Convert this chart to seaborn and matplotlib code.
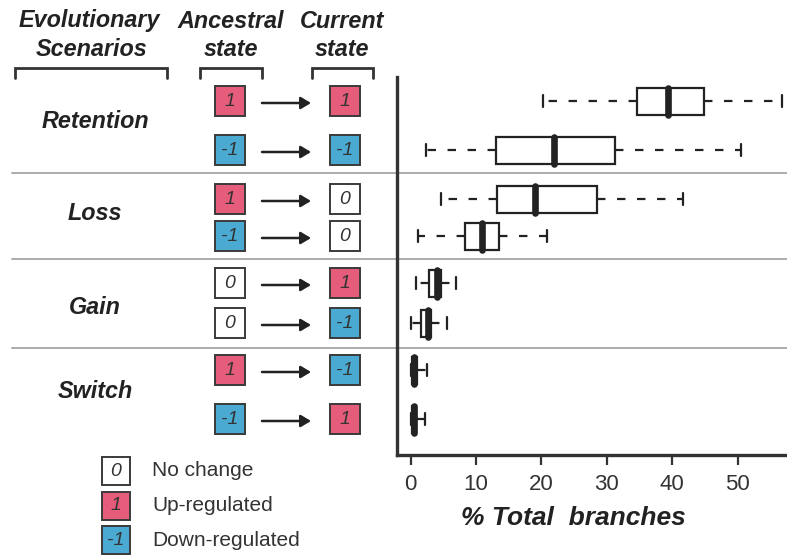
import numpy as np
import pandas as pd
import matplotlib
matplotlib.use("Agg")
import matplotlib.pyplot as plt
from matplotlib.patches import Rectangle
import seaborn as sns

# Evolutionary scenarios, each with two state transitions
scenarios = ["Retention", "Loss", "Gain", "Switch"]
ancestral_state = [1, -1, 1, -1, 0, 0, 1, -1]
current_state = [1, -1, 0, 0, 1, -1, -1, 1]

# Five-number summaries (% of total branches) for each transition
whisker_low = [20.3, 2.3, 4.7, 1.2, 0.8, 0.1, 0.1, 0.1]
quartile_1 = [34.6, 13.0, 13.2, 8.4, 2.9, 1.6, 0.2, 0.2]
median = [39.3, 21.9, 19.1, 10.9, 4.0, 2.6, 0.6, 0.6]
quartile_3 = [44.9, 31.3, 28.5, 13.6, 4.6, 3.2, 1.0, 0.9]
whisker_high = [56.8, 50.5, 41.7, 20.9, 6.9, 5.6, 2.5, 2.2]

x_ticks = [0, 10, 20, 30, 40, 50]
state_names = {0: "No change", 1: "Up-regulated", -1: "Down-regulated"}

# ---- layout (figure pixels, origin top-left) ----
W, H = 787, 556
row_y = [101, 150, 199, 236, 283, 323, 370, 419]
scenario_y = [122, 213, 307, 392]
separator_y = [173, 259, 348]
anc_x, cur_x, box_side = 230, 345, 30
state_colors = {0: "#ffffff", 1: "#e65c7b", -1: "#4aaad2"}
dark = "#222222"

sns.set_theme(style="white")
plt.rcParams["font.family"] = ["Liberation Sans", "DejaVu Sans"]

fig = plt.figure(figsize=(W / 100, H / 100), dpi=100)

# background canvas for the scenario table and legend
bg = fig.add_axes([0, 0, 1, 1])
bg.set_xlim(0, W)
bg.set_ylim(H, 0)
bg.axis("off")

# ---- boxplot panel ----
ax = fig.add_axes([397 / W, (H - 455) / H, (W - 397) / W, (455 - 77) / H])
ax.patch.set_alpha(0)

records = []
for i, y in enumerate(row_y):
    for v in (whisker_low[i], quartile_1[i], median[i], quartile_3[i], whisker_high[i]):
        records.append({"pct": v, "row": y})
df = pd.DataFrame(records)

sns.boxplot(
    data=df, x="pct", y="row", orient="h", native_scale=True,
    whis=(0, 100), width=27 / 37, color="white", linecolor=dark,
    linewidth=1.6, fliersize=0, saturation=1, ax=ax,
    boxprops=dict(edgecolor=dark, linewidth=1.6),
    medianprops=dict(color=dark, linewidth=4.8, solid_capstyle="round"),
    whiskerprops=dict(color=dark, linewidth=1.6, linestyle=(0, (3.8, 5.2))),
    capprops=dict(color=dark, linewidth=1.6),
    capwidths=12,
)

px0, px_per = 410.5, 6.54
ax.set_xlim((397 - px0) / px_per, (W - px0) / px_per)
ax.set_ylim(455, 77)
ax.set_yticks([])
ax.set_ylabel("")
ax.set_xticks(x_ticks)
ax.set_xticklabels([str(t) for t in x_ticks])
ax.tick_params(axis="x", bottom=True, length=7, width=1.6, color="#333333",
               labelsize=16, labelcolor="#333333", pad=7, direction="out")
for side in ("top", "right"):
    ax.spines[side].set_visible(False)
for side in ("left", "bottom"):
    ax.spines[side].set_color("#333333")
    ax.spines[side].set_linewidth(2.4)
ax.set_xlabel("% Total  branches", fontsize=19, fontweight="bold",
              fontstyle="italic", color=dark)
ax.xaxis.set_label_coords((573 - 397) / (W - 397), -0.135)

# ---- header ----
hdr = dict(fontsize=16.8, fontweight="bold", fontstyle="italic", color=dark,
           ha="center", va="center")
bg.text(89, 21, "Evolutionary", **hdr)
bg.text(92, 49, "Scenarios", **hdr)
bg.text(231, 21, "Ancestral", **hdr)
bg.text(231, 49, "state", **hdr)
bg.text(342, 21, "Current", **hdr)
bg.text(342, 49, "state", **hdr)
for x0, x1 in [(15, 167), (200, 262), (312, 373)]:
    bg.plot([x0, x0, x1, x1], [78, 68, 68, 78], color="#333333", lw=2,
            solid_joinstyle="miter")

# ---- separators ----
for y in separator_y:
    bg.plot([12, W], [y, y], color="#a5a5a5", lw=1.3, zorder=0)

# ---- scenario labels ----
for name, y in zip(scenarios, scenario_y):
    bg.text(95, y, name, fontsize=16.8, fontweight="bold", fontstyle="italic",
            color=dark, ha="center", va="center")


def state_box(x, y, state, side=box_side):
    bg.add_patch(Rectangle((x - side / 2, y - side / 2), side, side,
                           facecolor=state_colors[state], edgecolor="#3a3a3a",
                           lw=1.4))
    bg.text(x, y + 0.5, str(state), fontsize=14, fontstyle="italic",
            color="#333333", ha="center", va="center")


# ---- transitions ----
for y, a, c in zip(row_y, ancestral_state, current_state):
    state_box(anc_x, y, a)
    state_box(cur_x, y, c)
    bg.annotate("", xy=(311, y + 2), xytext=(262, y + 2),
                arrowprops=dict(arrowstyle="-|>,head_length=0.6,head_width=0.36",
                                mutation_scale=10, lw=1.8, color=dark,
                                shrinkA=0, shrinkB=0))

# ---- legend ----
for y, s in zip([471, 505.5, 540], [0, 1, -1]):
    state_box(116, y, s, side=28)
    bg.text(152, y, state_names[s], fontsize=15, color="#333333",
            ha="left", va="center")

fig.savefig("out.png", dpi=100)
